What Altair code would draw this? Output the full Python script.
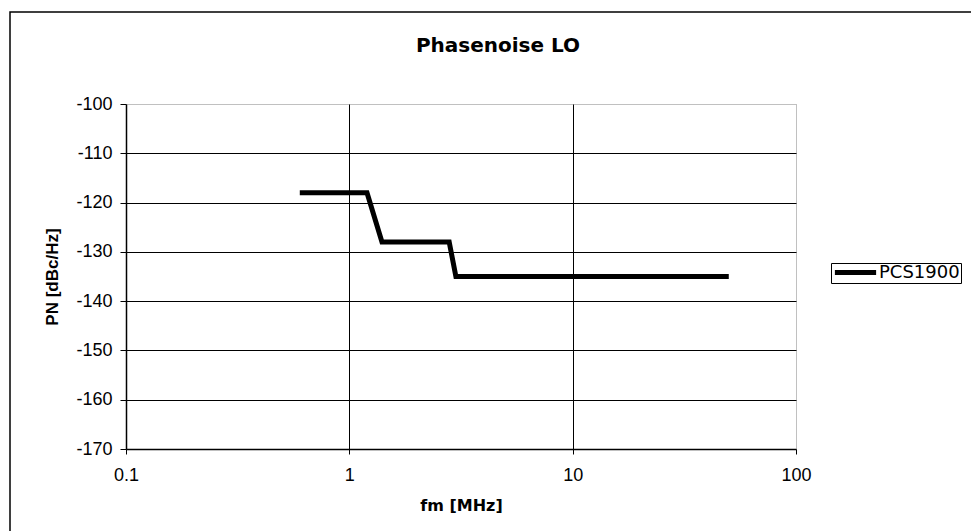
import altair as alt
import pandas as pd

# Data
fm_mhz = [0.6, 1.2, 1.4, 2.8, 3.0, 50.0]
pn_dbc = [-118, -118, -128, -128, -135, -135]
series_name = "PCS1900"

x_ticks = [0.1, 1, 10, 100]
y_ticks = [-170, -160, -150, -140, -130, -120, -110, -100]

df = pd.DataFrame({"fm": fm_mhz, "pn": pn_dbc, "series": [series_name] * len(fm_mhz)})

W, H = 670, 345
PAD_L, PAD_T = 126, 104
FONT = "Liberation Sans"

line = alt.Chart(df).mark_line(strokeWidth=5, color="black").encode(
    x=alt.X(
        "fm:Q",
        scale=alt.Scale(type="log", domain=[0.1, 100]),
        axis=alt.Axis(
            values=x_ticks,
            format="~g",
            labelFlush=False,
            title="fm [MHz]",
            grid=True,
            gridColor={"condition": {"test": "datum.value >= 100 || datum.value <= 0.1", "value": "transparent"}, "value": "black"},
            gridWidth=1,
            domainColor="black",
            domainWidth=1.5,
            tickColor="black",
            tickSize=5,
            labelPadding=12,
            labelFont=FONT,
            labelFontSize=18,
            labelColor="black",
            titleFont="DejaVu Sans",
            titleFontSize=16,
            titleFontWeight="bold",
            titleColor="black",
            titleX=W / 2,
            titleY=56,
            titleBaseline="middle",
            titleAlign="center",
        ),
    ),
    y=alt.Y(
        "pn:Q",
        scale=alt.Scale(domain=[-170, -100], nice=False, zero=False),
        axis=alt.Axis(
            values=y_ticks,
            labelExpr="'-' + toString(abs(datum.value))",
            title="PN [dBc/Hz]",
            grid=True,
            gridColor={"condition": {"test": "datum.value >= -100 || datum.value <= -170", "value": "transparent"}, "value": "black"},
            gridWidth=1.2,
            domainColor="black",
            domainWidth=1.5,
            tickColor="black",
            tickSize=6,
            labelPadding=8,
            labelFont=FONT,
            labelFontSize=18,
            labelColor="black",
            titleFont=FONT,
            titleFontSize=17,
            titleFontWeight="bold",
            titleColor="black",
            titleAngle=-90,
            titleX=-74,
            titleY=H / 2,
            titleBaseline="middle",
            titleAlign="center",
        ),
    ),
    color=alt.Color(
        "series:N",
        scale=alt.Scale(range=["black"]),
        legend=alt.Legend(
            title=None,
            orient="none",
            legendX=705,
            legendY=159,
            symbolType="stroke",
            symbolStrokeWidth=5,
            symbolSize=1700,
            symbolOffset=0,
            labelOffset=0,
            labelFont="DejaVu Sans",
            labelFontSize=18,
            labelColor="black",
            clipHeight=17,
            padding=1,
            strokeColor="black",
            fillColor="white",
        ),
    ),
)

frame = alt.Chart(pd.DataFrame({"a": [0]})).mark_rect(
    fill="transparent", stroke="black", strokeWidth=1.5
).encode(
    x=alt.value(-(PAD_L - 10)),
    y=alt.value(-(PAD_T - 12)),
    x2=alt.value(971 - PAD_L + 20),
    y2=alt.value(531 - PAD_T + 20),
)

chart = alt.layer(frame, line).properties(
    width=W,
    height=H,
    title=alt.TitleParams(
        "Phasenoise LO",
        font="DejaVu Sans",
        fontSize=20,
        fontWeight="bold",
        color="black",
        anchor="middle",
        baseline="bottom",
        dx=37,
        dy=65,
        offset=0,
    ),
    autosize=alt.AutoSizeParams(type="none"),
    padding={"left": PAD_L, "top": PAD_T, "right": 971 - PAD_L - W, "bottom": 531 - PAD_T - H},
    background="white",
).configure_view(
    stroke="#808080", strokeDash=[1, 1], strokeWidth=1
)

chart.save("out.html", embed_options={"renderer": "svg", "actions": False})
